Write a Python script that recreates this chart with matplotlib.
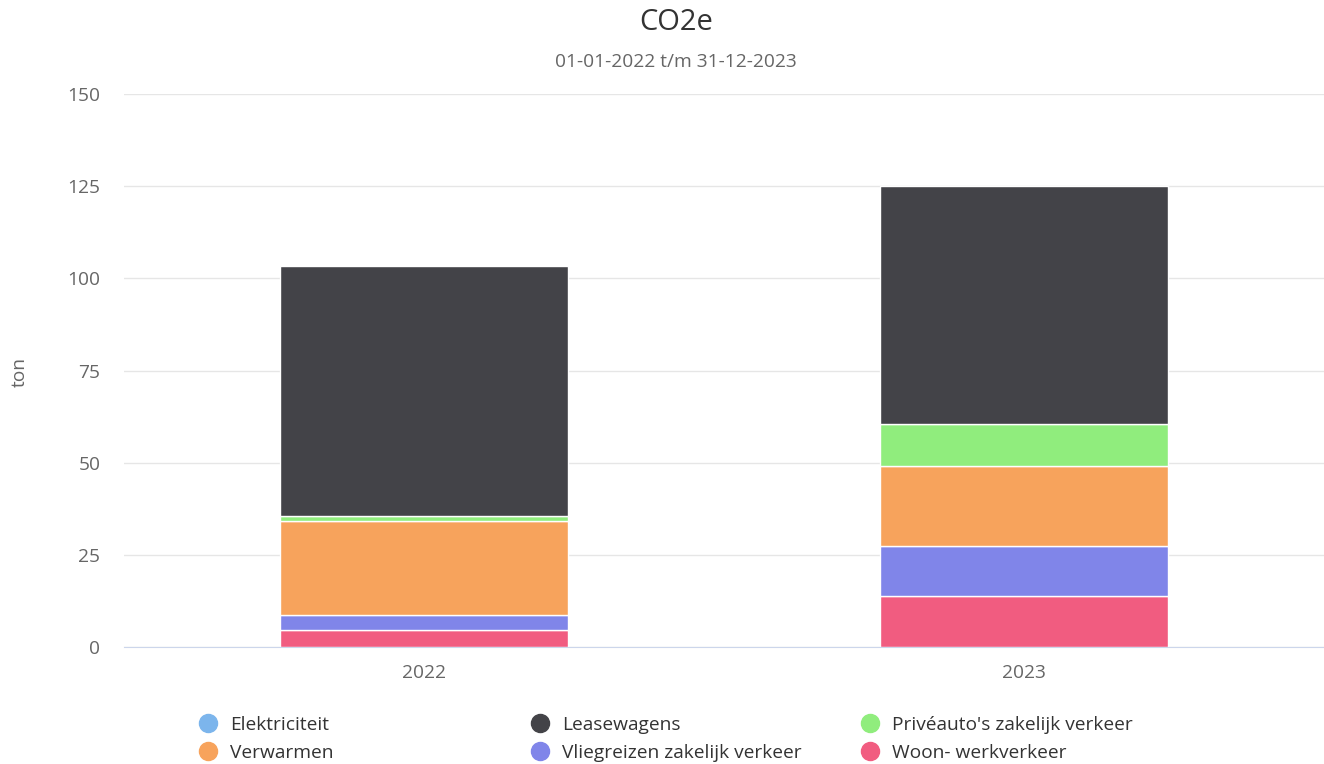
import matplotlib
matplotlib.use("Agg")
import matplotlib.pyplot as plt
from matplotlib.lines import Line2D
import numpy as np

plt.rcParams['font.family'] = ['Open Sans', 'DejaVu Sans']

years = ['2022', '2023']
series = ['Elektriciteit', 'Leasewagens', "Privéauto's zakelijk verkeer",
          'Verwarmen', 'Vliegreizen zakelijk verkeer', 'Woon- werkverkeer']
colors = ['#7cb5ec', '#434348', '#90ed7d', '#f7a35c', '#8085e9', '#f15c80']

elektriciteit = [0.0, 0.0]
leasewagens = [67.7, 64.7]
priveauto = [1.4, 11.3]
verwarmen = [25.6, 21.7]
vliegreizen = [3.9, 13.6]
woonwerk = [4.7, 13.8]

values = [elektriciteit, leasewagens, priveauto, verwarmen, vliegreizen, woonwerk]

fs = 13.8

fig = plt.figure(figsize=(13.24, 7.64), dpi=100)
ax = fig.add_axes([124 / 1324, 1 - 647 / 764, 1 - 124 / 1324, (647 - 94) / 764])

x = np.arange(len(years))
bottom = np.zeros(len(years))
# highcharts stacks the first series on top, so draw from the last one up
for name, vals, col in reversed(list(zip(series, values, colors))):
    vals = np.array(vals)
    lw = [1.0 if v > 0 else 0 for v in vals]
    ax.bar(x, vals, 0.48, bottom=bottom, color=col, edgecolor='white',
           linewidth=lw, zorder=3)
    bottom += vals

ax.set_xlim(-0.5, 1.5)
ax.set_ylim(0, 150)
ax.set_yticks([0, 25, 50, 75, 100, 125, 150])
ax.set_xticks(x)
ax.set_xticklabels(years)
ax.grid(axis='y', color='#e6e6e6', linewidth=1, zorder=0)
for s in ['top', 'right', 'left']:
    ax.spines[s].set_visible(False)
ax.spines['bottom'].set_color('#ccd6eb')
ax.spines['bottom'].set_zorder(4)
ax.tick_params(axis='y', length=0, pad=17, labelsize=fs, labelcolor='#666666')
ax.tick_params(axis='x', length=0, pad=12.5, labelsize=fs, labelcolor='#666666')

fig.text(20 / 1324, 1 - 372 / 764, 'ton', rotation=90, ha='center', va='center',
         fontsize=fs, color='#666666')
fig.text(676 / 1324, 1 - 23 / 764, 'CO2e', ha='center', va='center',
         fontsize=21, color='#333333')
fig.text(676 / 1324, 1 - 62 / 764, '01-01-2022 t/m 31-12-2023', ha='center',
         va='center', fontsize=fs, color='#666666')

# legend in three columns, filled row by row
col_x = [198, 530, 860]
for c in range(3):
    items = [c, c + 3]
    handles = [Line2D([], [], marker='o', linestyle='none', markersize=13,
                      markerfacecolor=colors[i], markeredgecolor=colors[i])
               for i in items]
    leg = fig.legend(handles, [series[i] for i in items], loc='upper left',
                     bbox_to_anchor=(col_x[c] / 1324, 1 - 716 / 764),
                     frameon=False, fontsize=fs, handlelength=1.0,
                     handletextpad=0.65, labelspacing=0.52, borderpad=0,
                     borderaxespad=0)
    for t in leg.get_texts():
        t.set_color('#333333')

fig.savefig('out.png', dpi=100)
